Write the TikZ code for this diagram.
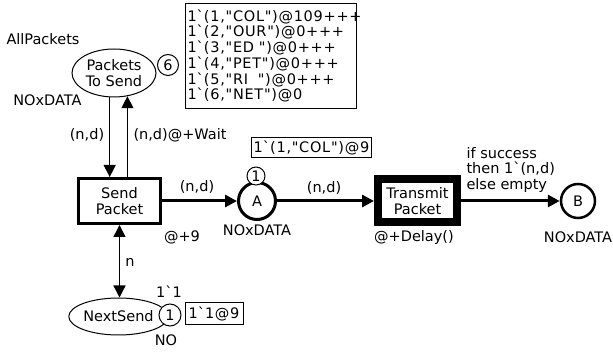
\documentclass[tikz,border=0pt]{standalone}
\usepackage{fontspec}
\newfontfamily\petri{DejaVu Sans}
\usepackage{tikz}
\usetikzlibrary{arrows.meta,positioning,shapes.geometric,calc}
\newcommand{\bq}{\textasciigrave}

\begin{document}
\begin{tikzpicture}[x=1pt,y=-1pt,font=\petri\fontsize{14.5}{15.6}\selectfont,
	>={Triangle[length=12pt,width=12pt]},
	place/.style={ellipse,draw,line width=1pt,inner sep=0pt,align=center},
	ring/.style={circle,draw,line width=3pt,minimum size=37pt,inner sep=0pt},
	trans/.style={rectangle,draw,align=center,inner sep=0pt},
	token/.style={circle,draw,fill=white,line width=1pt,inner sep=0pt},
	markbox/.style={draw,line width=1pt,inner sep=2pt,align=left,font=\petri\fontsize{14.5}{15.7}\selectfont\addfontfeature{LetterSpace=5}},
	arc/.style={line width=1.3pt},
	bigarc/.style={line width=3pt}]
					\useasboundingbox (0,0) rectangle (613,352);
					
					% places and transitions
					\node[place,minimum width=84pt,minimum height=48pt](pts) at (114,73){Packets\\To Send};
					\node[token,minimum size=21pt](tok6) at (168,65){6};
					\node[trans,line width=3pt,minimum width=82pt,minimum height=45pt](sendp) at (119.5,201){Send\\Packet};
					\node[ring](A) at (257,201){A};
					\node[token,minimum size=18pt](tokA) at (256,176){1};
					\node[trans,line width=8pt,minimum width=79pt,minimum height=43pt](tp) at (417.5,201){Transmit\\Packet};
					\node[ring,line width=2.5pt,minimum size=34pt](B) at (578,201){B};
					\node[place,minimum width=93pt,minimum height=37pt](ns) at (118.5,316.5){NextSend};
					\node[token,minimum size=22pt](tokN) at (170,315){1};
					
					% markings
					\node[markbox,text width=167pt,minimum height=105pt,anchor=north west](init) at (185,3){1\bq(1,"COL")@109+++\\1\bq(2,"OUR")@0+++\\1\bq(3,"ED~")@0+++\\1\bq(4,"PET")@0+++\\1\bq(5,"RI~~")@0+++\\1\bq(6,"NET")@0};
					\node[markbox,minimum width=117pt,minimum height=20pt](curA) at (311.5,148){1\bq(1,"COL")@9};
					\node[markbox,minimum width=58pt,minimum height=22pt](curN) at (214,314){1\bq1@9};
					
					% arcs
					\draw[arc,->](pts.-100)--(pts.-100 |- sendp.north);
					\draw[arc,->](pts.-60 |- sendp.north)--(pts.-60);
					\draw[bigarc,->](sendp)--(A);
					\draw[bigarc,->](A)--(tp);
					\draw[bigarc,->](tp)--(B);
					\draw[arc,<->](sendp.south)--(sendp.south |- ns.north);
					
					% inscriptions
					\node(lAll) at (43,39){AllPackets};
					\node(lPts) at (47.5,100){NOxDATA};
					\node(lIn) at (87,135){(n,d)};
					\node(lBack) at (180,135){(n,d)@+Wait};
					\node(lSA) at (197,187){(n,d)};
					\node(lAT) at (324,188){(n,d)};
					\node(lWait) at (182,237){@+9};
					\node(lA) at (257,230){NOxDATA};
					\node(lDelay) at (414,238){@+Delay()};
					\node(lB) at (578,237){NOxDATA};
					\node[align=left,anchor=west](lTB) at (463,170){if success\\then 1\bq(n,d)\\else empty};
					\node(lN) at (130,262){n};
					\node(lNinit) at (169,292){1\bq1};
					\node(lNtype) at (166,340){NO};
				\end{tikzpicture}
\end{document}
